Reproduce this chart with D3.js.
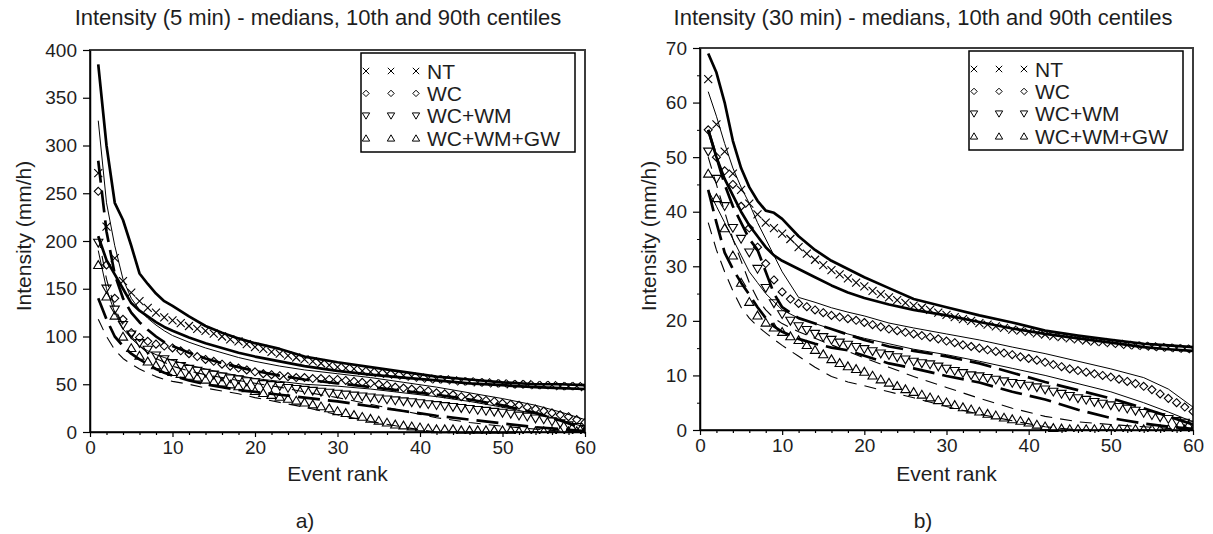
<!DOCTYPE html>
<html><head><meta charset="utf-8">
<script src="https://cdn.jsdelivr.net/npm/d3@7"></script>
<style>
body{margin:0;background:#fff}
svg{display:block}
text{font-family:"Liberation Sans",Arial,sans-serif;fill:#1e1e1e}
</style>
</head><body>
<svg id="chart" width="1213" height="534"></svg>
<script>
// ---------------- data ----------------
const ranks = [1,2,3,4,5,6,7,8,9,10,11,12,13,14,15,16,17,18,19,20,21,22,23,24,25,26,27,28,29,30,
               31,32,33,34,35,36,37,38,39,40,41,42,43,44,45,46,47,48,49,50,51,52,53,54,55,56,57,58,59,60];
const centRanks = [1,2,3,4,5,6,7,8,9,10,12,14,16,18,20,23,26,30,34,38,42,46,50,54,57,60];
const seriesNames = ["NT","WC","WC+WM","WC+WM+GW"];
const xTicks = [0,10,20,30,40,50,60];
const xMinorTicks = [2,4,6,8,12,14,16,18,22,24,26,28,32,34,36,38,42,44,46,48,52,54,56,58];
const aYTicks = [0,50,100,150,200,250,300,350,400];
const bYTicks = [0,10,20,30,40,50,60,70];
const bYMinorTicks = [5,15,25,35,45,55,65];

// panel a) 5 min - medians
const a_NT_med   = [271,215,182,158,146,137,130,125,120,117,114,111,108,106,103,100,97,95,92,89,87,84,82,80,78,76,74,72,70,68,67,66,64,63,62,61,60,59,58,57,56,55,55,54,53,53,52,52,51,51,50,50,50,49,49,49,48,48,48,47];
const a_WC_med   = [252,175,140,118,104,99,95,92,90,88,85,82,79,76,74,71,69,67,65,63,61,60,59,58,57,57,56,56,55,55,54,53,52,51,50,49,47,46,45,44,43,41,40,39,37,36,35,33,32,30,29,28,26,24,22,20,18,16,13,10];
const a_WCWM_med = [198,150,128,112,102,93,86,80,76,72,69,66,64,62,60,58,56,55,53,52,50,49,48,46,45,44,43,42,41,40,39,38,37,36,35,34,33,32,31,30,29,28,27,26,25,24,23,22,21,20,19,17,16,14,13,11,9,7,5,3];
const a_GW_med   = [175,142,122,100,88,80,74,70,66,63,61,59,57,55,53,52,50,48,46,43,41,39,37,35,33,31,29,27,25,22,20,18,16,14,12,10,8,7,6,5,4,3,3,3,2,2,2,2,2,2,2,1,1,1,1,1,1,1,1,1];
// panel a) centiles (at centRanks)
const a_NT_p90   = [385,300,240,222,195,166,155,145,137,132,121,111,104,98,93,87,79,73,68,63,58,55,52,50,50,49];
const a_NT_p10   = [205,180,165,150,135,127,121,115,110,106,99,93,88,83,79,74,69,64,60,57,54,51,49,47,46,45];
const a_WC_p90   = [326,240,195,160,140,128,119,112,106,101,94,88,83,78,74,69,65,61,57,52,47,41,35,28,21,13];
const a_WC_p10   = [190,150,125,108,98,90,85,81,78,75,70,66,62,59,56,53,50,48,45,41,37,32,26,19,13,5];
const a_WCWM_p90 = [284,210,165,140,125,115,107,100,94,90,83,77,72,68,64,59,55,51,47,43,39,34,28,20,12,3];
const a_WCWM_p10 = [140,118,100,90,82,76,71,66,62,59,54,50,47,44,42,39,36,32,27,22,17,13,9,5,3,1];
const a_GW_p90   = [205,160,130,112,100,90,83,77,73,69,64,60,57,54,51,47,42,36,29,22,15,10,6,3,1,0];
const a_GW_p10   = [118,100,86,77,71,66,62,58,55,53,50,46,43,40,36,31,26,18,11,5,0,0,0,0,0,0];

// panel b) 30 min - medians
const b_NT_med   = [64.3,56,51,47,44,41.5,39.5,38,37,36,35,33.5,32.3,31.2,30.2,29.3,28.5,27.8,27,26.3,25.5,24.9,24.3,23.8,23.3,22.8,22.4,22,21.5,21.1,20.7,20.3,20,19.6,19.3,19,18.7,18.4,18.2,18,17.7,17.5,17.2,17,16.8,16.6,16.4,16.2,16.1,15.9,15.8,15.6,15.5,15.4,15.3,15.2,15.1,15.0,14.9,14.8];
const b_WC_med   = [55,50,47.5,45,41,37,33.5,30.5,27.5,25.3,24,23.2,22.6,22,21.5,21,20.7,20.4,20.1,19.7,19.3,18.9,18.5,18.2,17.9,17.6,17.3,17,16.7,16.3,16,15.6,15.3,15,14.7,14.4,14.1,13.8,13.4,13.1,12.8,12.4,12,11.6,11.2,10.9,10.6,10.3,10,9.7,9.3,8.9,8.5,8,7.4,6.6,5.8,5,4.2,3.4];
const b_WCWM_med = [51,46,41,37,35,32.5,29.5,26,23.2,21.2,20,19,18.3,17.6,17,16.5,16,15.6,15.2,14.8,14.4,14,13.7,13.3,12.9,12.5,12.2,12,11.6,11.2,10.8,10.4,10,9.8,9.5,9.2,8.9,8.6,8.4,8.1,7.8,7.4,7,6.6,6.2,5.8,5.5,5.1,4.8,4.5,4.2,3.9,3.5,3.1,2.7,2.3,2,1.6,1.3,1.0];
const b_GW_med   = [47,42.5,37,32,27,23.5,21,19.7,18.8,18,17.2,16.5,15.6,14.7,13.9,13,12.3,11.7,11.2,10.7,10,9.3,8.7,8.1,7.5,7,6.5,6,5.5,5.1,4.6,4.2,3.8,3.4,3,2.7,2.3,2,1.7,1.4,1,0.7,0.4,0.3,0.2,0.2,0.2,0.2,0.2,0.2,0.2,0.2,0.2,0.2,0.2,0.2,0.2,0.2,0.2,0.2];
// panel b) centiles (at centRanks)
const b_NT_p90   = [69,65.5,60,53,48,44.5,42,40.2,39.8,38.7,35.5,33,31,29.5,28,26,24,22.5,21,19.7,18.2,17.3,16.5,15.8,15.5,15.2];
const b_NT_p10   = [55,50,46,43,40,37.5,35.5,33.5,32,31,29.5,28,26.5,25.2,24.2,23,22,21,19.8,18.6,17.6,16.8,16,15.2,14.8,14.5];
const b_WC_p90   = [62,57.5,52.5,48,44.5,41.5,38,35,32,29,24.3,23.4,22.4,21.6,20.9,19.6,18.7,17.6,16.5,15.2,14,12.6,11.2,9.6,7.5,4.2];
const b_WC_p10   = [44,41,38,35,32,29,27,25,23.5,22,20.5,19.5,18.5,17.6,16.8,15.8,14.8,13.8,12.6,11.3,10,8.5,7,5,3.3,1.5];
const b_WCWM_p90 = [55,50,45,41,38,35,33,29,25,22.5,20.5,19.5,18.5,17.5,16.5,15.3,14.5,13.5,12.2,10.5,8.8,7.3,5.8,4,2.5,1.0];
const b_WCWM_p10 = [44,38,32.5,29.5,27,24.8,22.5,20.5,19,18,16.7,15.8,15.1,14.6,13.6,12.2,11.3,9.9,8.7,7,5.6,3.7,2.2,1.2,0.6,0.2];
const b_GW_p90   = [50,45,40,35,31,27,24,22,20.5,19.5,18,16.8,15.6,14.4,13.2,11.5,9.8,7.8,5.8,4,2.5,1.5,1,0.6,0.3,0];
const b_GW_p10   = [38,33,29,25.5,22.5,20.5,19,17.8,16.6,15.5,13.5,11.5,9.8,8.8,8.1,7,5.9,4.3,2.9,1.7,0.6,0,0,0,0,0];

// ---------------- styles ----------------
const markerTypes = ["x","d","v","^"];
const lineStyles = [
  {w:2.7, dash:null},
  {w:1.0, dash:null},
  {w:2.7, dash:"22,8"},
  {w:1.1, dash:"12,8"}
];
function markerPath(t, s){
  s = s || 1;
  const p = v => (v*s).toFixed(2);
  if(t==="x") return `M${p(-4)},${p(-4)}L${p(4)},${p(4)}M${p(-4)},${p(4)}L${p(4)},${p(-4)}`;
  if(t==="d") return `M0,${p(-4)}L${p(4)},0L0,${p(4)}L${p(-4)},0Z`;
  if(t==="v") return `M${p(-4.6)},${p(-3.6)}L${p(4.6)},${p(-3.6)}L0,${p(4.2)}Z`;
  return `M${p(-4.6)},${p(3.6)}L${p(4.6)},${p(3.6)}L0,${p(-4.2)}Z`;
}

const svg = d3.select("#chart");
const fontF = '"Liberation Sans",Arial,sans-serif';

function drawPanel(cfg){
  const x = d3.scaleLinear().domain([0,60]).range([cfg.x0,cfg.x1]);
  const y = d3.scaleLinear().domain([0,cfg.yMax]).range([cfg.y0,cfg.y1]);
  const g = svg.append("g");
  const clipId = "clip"+cfg.id;
  g.append("clipPath").attr("id",clipId).append("rect")
    .attr("x",cfg.x0).attr("y",cfg.y1).attr("width",cfg.x1-cfg.x0).attr("height",cfg.y0-cfg.y1+2);

  // frame
  g.append("rect").attr("x",cfg.x0).attr("y",cfg.y1)
    .attr("width",cfg.x1-cfg.x0).attr("height",cfg.y0-cfg.y1)
    .attr("fill","none").attr("stroke","#3c3c3c").attr("stroke-width",2);

  const plot = g.append("g").attr("clip-path",`url(#${clipId})`);
  const line = d3.line().x(d=>x(d[0])).y(d=>y(d[1]));

  // centile lines
  cfg.cent.forEach((pair,i)=>{
    pair.forEach(vals=>{
      plot.append("path")
        .datum(centRanks.map((r,j)=>[r,vals[j]]))
        .attr("d",line)
        .attr("fill","none").attr("stroke","#000")
        .attr("stroke-width",lineStyles[i].w)
        .attr("stroke-dasharray",lineStyles[i].dash)
        .attr("stroke-linejoin","round");
    });
  });

  // median markers
  cfg.med.forEach((vals,i)=>{
    plot.selectAll(null).data(ranks.map((r,j)=>[r,vals[j]])).enter()
      .append("path")
      .attr("transform",d=>`translate(${x(d[0])},${y(d[1])})`)
      .attr("d",markerPath(markerTypes[i]))
      .attr("fill","none").attr("stroke","#000").attr("stroke-width",1.1);
  });

  // axes
  const xa = g.append("g").attr("transform",`translate(0,${cfg.y0})`)
    .call(d3.axisBottom(x).tickValues(xTicks).tickSize(5).tickSizeOuter(0).tickPadding(4));
  const xm = g.append("g").attr("transform",`translate(0,${cfg.y0})`)
    .call(d3.axisBottom(x).tickValues(xMinorTicks).tickSize(3).tickFormat(""));
  xm.select(".domain").remove();
  const ya = g.append("g").attr("transform",`translate(${cfg.x0},0)`)
    .call(d3.axisLeft(y).tickValues(cfg.yTicks).tickSize(7).tickSizeOuter(0).tickPadding(6));
  if(cfg.yMinor){
    const ym = g.append("g").attr("transform",`translate(${cfg.x0},0)`)
      .call(d3.axisLeft(y).tickValues(cfg.yMinor).tickSize(3).tickFormat(""));
    ym.select(".domain").remove();
  }
  [xa,xm,ya].forEach(a=>{
    a.selectAll("text").attr("font-size",19).attr("font-family",fontF).attr("fill","#1e1e1e");
    a.selectAll("line").attr("stroke","#000").attr("stroke-width",1.2);
    a.select(".domain").attr("stroke","#000").attr("stroke-width",1.5);
  });
  g.selectAll(".tick line").attr("stroke","#000");

  // titles & labels
  g.append("text").attr("x",cfg.titleX).attr("y",25).attr("text-anchor","middle")
    .attr("font-size",22).text(cfg.title);
  g.append("text").attr("x",(cfg.x0+cfg.x1)/2).attr("y",481).attr("text-anchor","middle")
    .attr("font-size",21).text("Event rank");
  g.append("text").attr("transform",`translate(${cfg.yLabelX},236) rotate(-90)`)
    .attr("text-anchor","middle").attr("font-size",21).text("Intensity (mm/h)");
  g.append("text").attr("x",cfg.subX).attr("y",528).attr("text-anchor","middle")
    .attr("font-size",21).text(cfg.sub);

  // legend
  const lw = 214, lh = 99;
  const lx = cfg.x1 - 10 - lw, ly = cfg.y1 + 3;
  const lg = g.append("g");
  lg.append("rect").attr("x",lx).attr("y",ly).attr("width",lw).attr("height",lh)
    .attr("fill","#fff").attr("stroke","#000").attr("stroke-width",1.5);
  seriesNames.forEach((nm,i)=>{
    const ry = ly + 18 + i*22.4;
    [5,30,55].forEach(dx=>{
      lg.append("path").attr("transform",`translate(${lx+dx},${ry})`)
        .attr("d",markerPath(markerTypes[i],0.8))
        .attr("fill","none").attr("stroke","#000").attr("stroke-width",1);
    });
    lg.append("text").attr("x",lx+66).attr("y",ry+7.5).attr("font-size",21).text(nm);
  });
}

drawPanel({
  id:"a", x0:90, x1:585, y0:432, y1:50, yMax:400, yTicks:aYTicks, yMinor:null,
  title:"Intensity (5 min) - medians, 10th and 90th centiles", titleX:318,
  yLabelX:31, sub:"a)", subX:305,
  med:[a_NT_med,a_WC_med,a_WCWM_med,a_GW_med],
  cent:[[a_NT_p90,a_NT_p10],[a_WC_p90,a_WC_p10],[a_WCWM_p90,a_WCWM_p10],[a_GW_p90,a_GW_p10]]
});
drawPanel({
  id:"b", x0:700, x1:1193, y0:430, y1:48, yMax:70, yTicks:bYTicks, yMinor:bYMinorTicks,
  title:"Intensity (30 min) - medians, 10th and 90th centiles", titleX:923,
  yLabelX:656, sub:"b)", subX:923,
  med:[b_NT_med,b_WC_med,b_WCWM_med,b_GW_med],
  cent:[[b_NT_p90,b_NT_p10],[b_WC_p90,b_WC_p10],[b_WCWM_p90,b_WCWM_p10],[b_GW_p90,b_GW_p10]]
});
</script>
</body></html>
